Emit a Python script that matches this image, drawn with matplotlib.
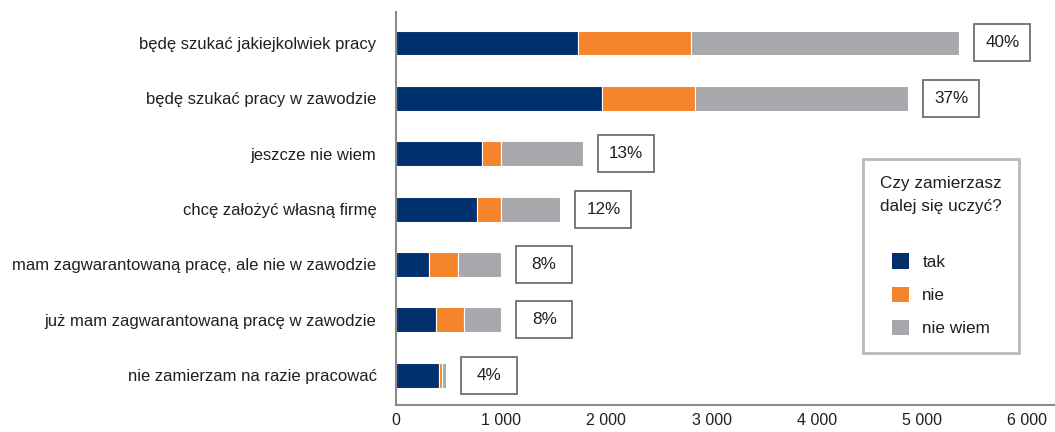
import numpy as np
import matplotlib.pyplot as plt
from matplotlib.patches import Rectangle, Patch

plt.rcParams['font.family'] = ['Liberation Sans', 'DejaVu Sans']

kategorie = ["będę szukać jakiejkolwiek pracy",
             "będę szukać pracy w zawodzie",
             "jeszcze nie wiem",
             "chcę założyć własną firmę",
             "mam zagwarantowaną pracę, ale nie w zawodzie",
             "już mam zagwarantowaną pracę w zawodzie",
             "nie zamierzam na razie pracować"]
tak = [1735, 1960, 815, 774, 311, 381, 406]
nie = [1072, 884, 187, 228, 282, 266, 29]
nie_wiem = [2550, 2027, 773, 562, 407, 354, 38]
procenty = ["40%", "37%", "13%", "12%", "8%", "8%", "4%"]
serie = ["tak", "nie", "nie wiem"]
kolory = ["#00306E", "#F5842A", "#A7A8AB"]

W, H = 1055, 432
fig = plt.figure(figsize=(W / 100, H / 100), dpi=100)
ax = fig.add_axes([396 / W, 1 - 405 / H, (W - 396) / W, (405 - 12) / H])

y = np.arange(len(kategorie))
left = np.zeros(len(kategorie))
for vals, c in zip([tak, nie, nie_wiem], kolory):
    ax.barh(y, vals, left=left, height=0.45, color=c, edgecolor='white', linewidth=0.8)
    left = left + np.array(vals)

xmax = 6000 * 659 / 631
ax.set_xlim(0, xmax)
ax.set_ylim(6.54, -0.56)
ax.set_yticks(y)
ax.set_yticklabels(kategorie, fontsize=12, color='#231F20')
ax.set_xticks(np.arange(0, 6001, 1000))
ax.set_xticklabels(["0", "1 000", "2 000", "3 000", "4 000", "5 000", "6 000"],
                   fontsize=11.5, color='#231F20')
ax.tick_params(axis='y', length=0, pad=14)
ax.tick_params(axis='x', length=0, pad=6)
for s in ['top', 'right']:
    ax.spines[s].set_visible(False)
for s in ['left', 'bottom']:
    ax.spines[s].set_color('#8C8C8C')
    ax.spines[s].set_linewidth(1.5)

# pola z procentami
px_x = xmax / (W - 396)
px_y = 7.1 / (405 - 12)
bw, bh, gap = 56 * px_x, 37 * px_y, 15 * px_x
for i, (tot, p) in enumerate(zip(left, procenty)):
    x0 = tot + gap
    ax.add_patch(Rectangle((x0, i - bh / 2), bw, bh, facecolor='white',
                           edgecolor='#6D6E71', linewidth=1.3, clip_on=False))
    ax.text(x0 + bw / 2, i, p, ha='center', va='center', fontsize=12.3, color='#231F20')

uchwyty = [Patch(facecolor=c, edgecolor='none') for c in kolory]
leg = fig.legend(uchwyty, serie, title="Czy zamierzasz\ndalej się uczyć?\n",
                 loc='upper left', bbox_to_anchor=(863 / W, 1 - 159 / H),
                 borderaxespad=0, fontsize=12.3, title_fontsize=12.3, frameon=True,
                 fancybox=False, borderpad=1.0, labelspacing=0.98, handlelength=1.0,
                 handleheight=1.0, handletextpad=0.8, alignment='center')
leg.get_frame().set_edgecolor('#A7A8AB')
leg.get_frame().set_linewidth(2)
for t in leg.get_texts():
    t.set_color('#231F20')
leg.get_title().set_color('#231F20')
leg.get_title().set_linespacing(1.65)

fig.savefig("out.png", dpi=100)
